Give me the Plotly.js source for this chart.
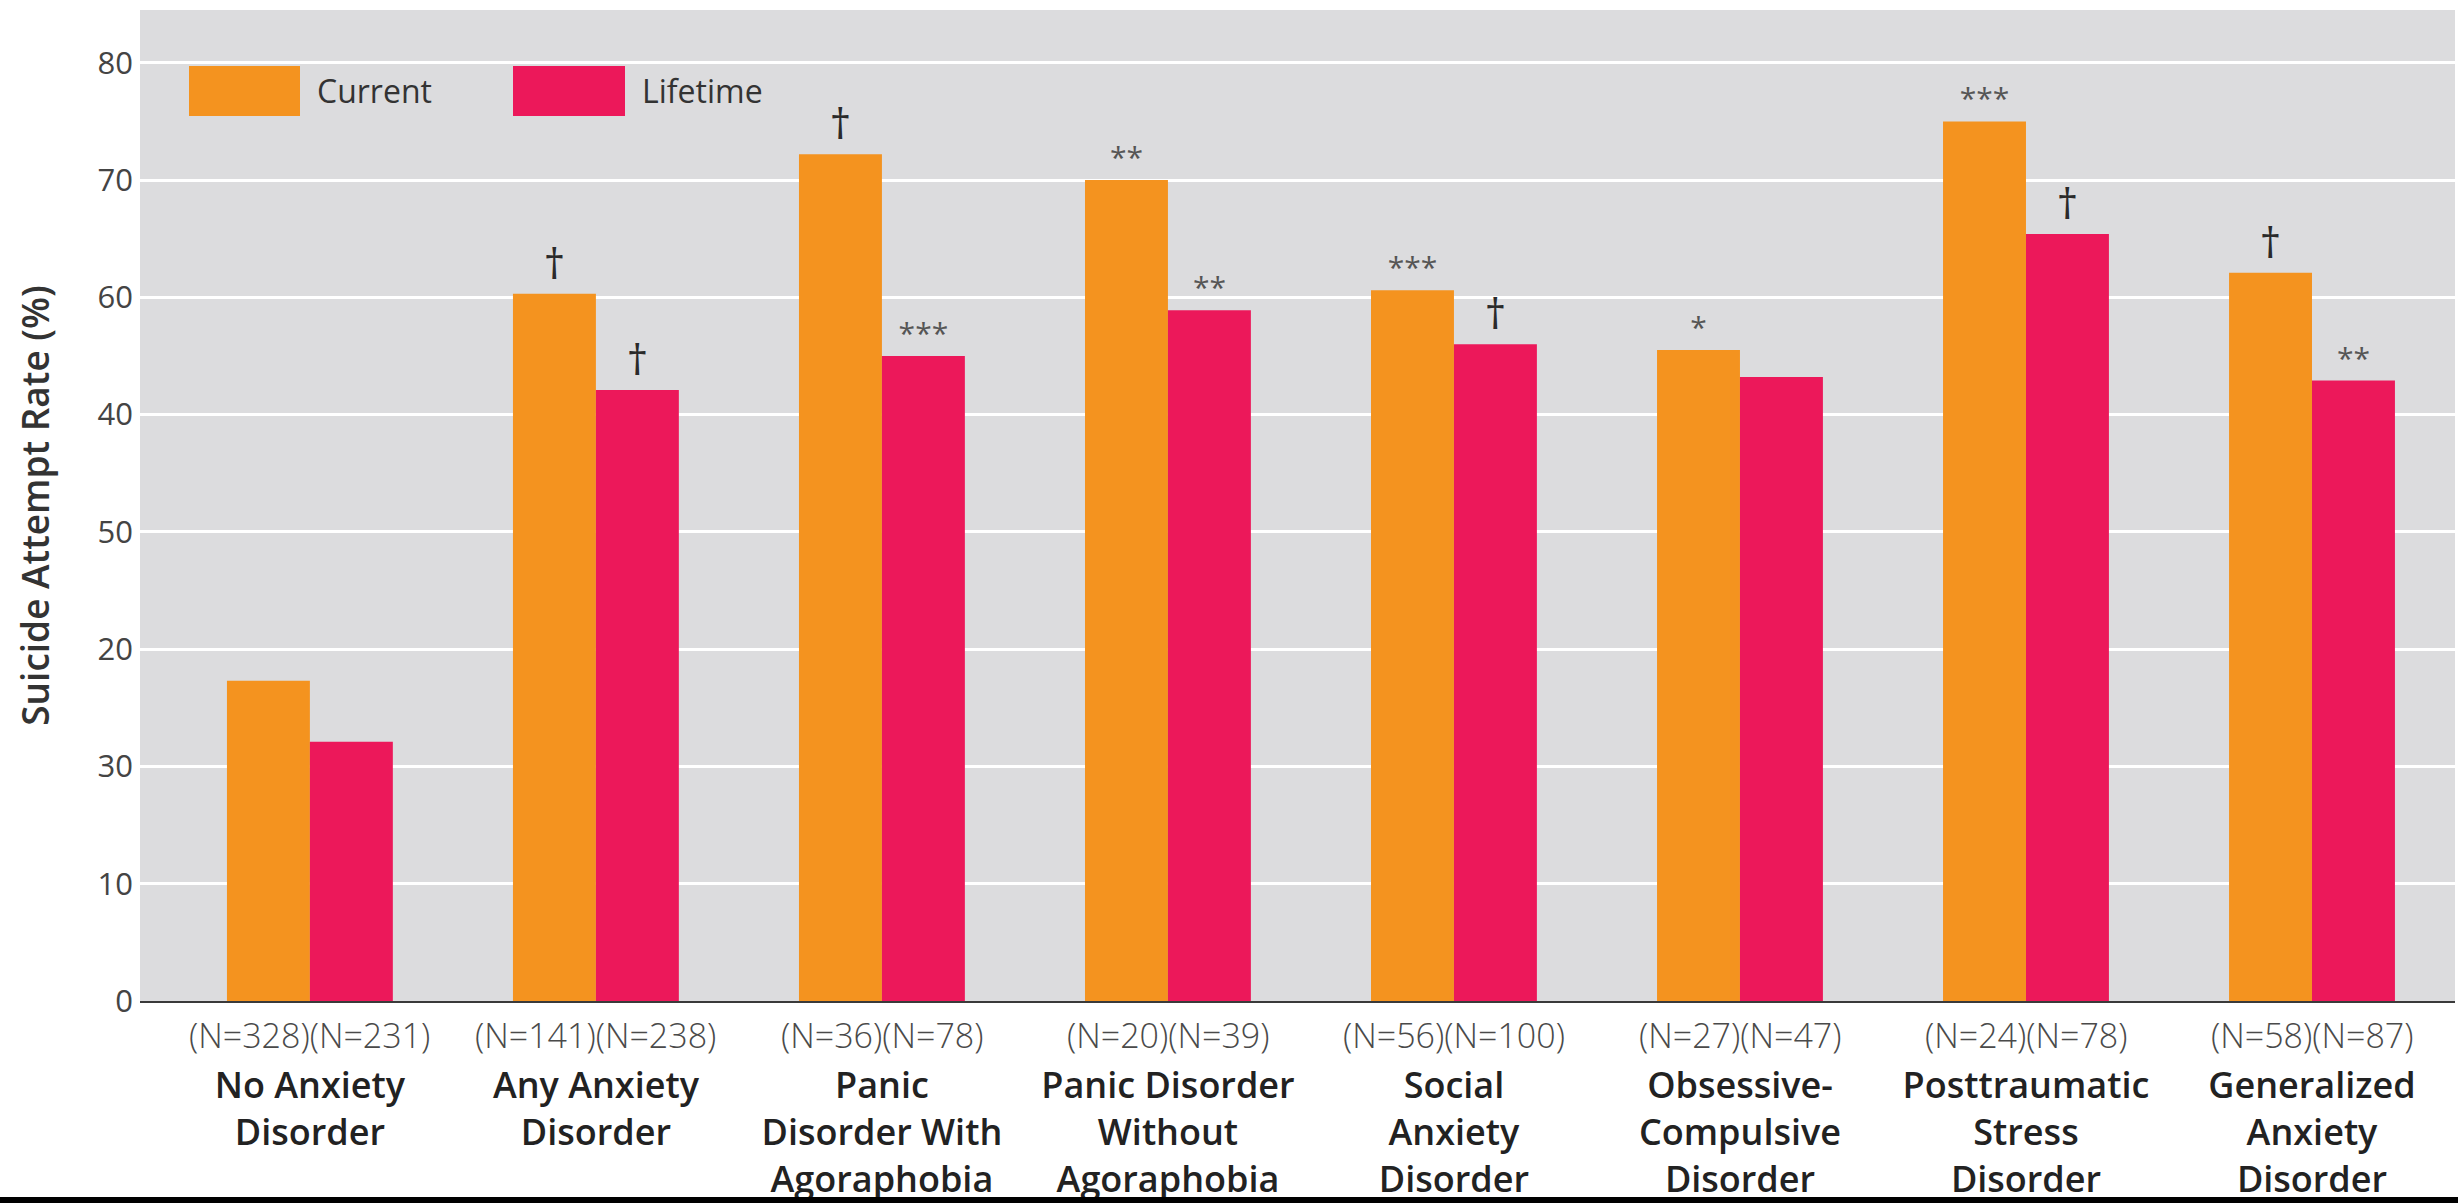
<!DOCTYPE html>
<html>
<head>
<meta charset="utf-8">
<script src="https://cdn.plot.ly/plotly-3.0.1.min.js"></script>
<style>
  html, body { margin: 0; padding: 0; background: #ffffff; }
  #chart { width: 2458px; height: 1203px; }
</style>
</head>
<body>
<div id="chart"></div>
<script>
// ---- Data ----
const categories = [
  "No Anxiety<br>Disorder",
  "Any Anxiety<br>Disorder",
  "Panic<br>Disorder With<br>Agoraphobia",
  "Panic Disorder<br>Without<br>Agoraphobia",
  "Social<br>Anxiety<br>Disorder",
  "Obsessive-<br>Compulsive<br>Disorder",
  "Posttraumatic<br>Stress<br>Disorder",
  "Generalized<br>Anxiety<br>Disorder"
];
const currentRate  = [27.3, 60.3, 72.2, 70.0, 60.6, 55.5, 75.0, 62.1];
const lifetimeRate = [22.1, 52.1, 55.0, 58.9, 56.0, 53.2, 65.4, 52.9];
const nCurrent  = [328, 141, 36, 20, 56, 27, 24, 58];
const nLifetime = [231, 238, 78, 39, 100, 47, 78, 87];
const currentMarks  = ["", "†", "†", "**", "***", "*", "***", "†"];
const lifetimeMarks = ["", "†", "***", "**", "†", "", "†", "**"];
const yTickVals = [0, 10, 20, 30, 40, 50, 60, 70, 80];
const yTickText = ["0", "10", "30", "20", "50", "40", "60", "70", "80"];
const seriesNames = ["Current", "Lifetime"];
const seriesColors = ["#f4931f", "#ec185a"];

// ---- Layout geometry ----
const W = 2458, H = 1203;
const M = { l: 140, r: 3, t: 10, b: 202 };
const plotW = W - M.l - M.r, plotH = H - M.t - M.b;
const px2x = p => (p - M.l) / plotW;
const px2y = p => (H - M.b - p) / plotH;

const FONT = "Open Sans, Noto Sans, sans-serif";
const markSize = m => (m.indexOf("†") >= 0 ? 42 : 30);
const markColor = m => (m.indexOf("†") >= 0 ? "#2a2a2a" : "#555555");

function barTrace(i, values, marks) {
  return {
    type: "bar",
    name: seriesNames[i],
    x: categories,
    y: values,
    marker: { color: seriesColors[i], line: { width: 0 } },
    text: marks,
    textposition: "outside",
    constraintext: "none",
    cliponaxis: false,
    textfont: { family: FONT, size: marks.map(markSize), color: marks.map(markColor) },
    hoverinfo: "x+y+name"
  };
}

const traces = [
  barTrace(0, currentRate, currentMarks),
  barTrace(1, lifetimeRate, lifetimeMarks)
];

const annotations = categories.map((c, i) => ({
  x: c, xref: "x",
  y: px2y(1035), yref: "paper",
  text: "(N=" + nCurrent[i] + ")(N=" + nLifetime[i] + ")",
  showarrow: false,
  xanchor: "center", yanchor: "middle",
  font: { family: FONT, size: 34, color: "#4a4a4a", weight: 300 }
}));

// custom legend (large swatches as in the reference)
const legendBoxes = [[189, 300], [513, 625]];
const legendText = [315, 640];
const shapes = [];
seriesNames.forEach((n, i) => {
  shapes.push({
    type: "rect", xref: "paper", yref: "paper",
    x0: px2x(legendBoxes[i][0]), x1: px2x(legendBoxes[i][1]),
    y0: px2y(116), y1: px2y(66),
    fillcolor: seriesColors[i], line: { width: 0 }
  });
  annotations.push({
    xref: "paper", yref: "paper",
    x: px2x(legendText[i]), y: px2y(91),
    text: n, showarrow: false, xanchor: "left", yanchor: "middle",
    font: { family: FONT, size: 32, color: "#333333" }
  });
});
// black strip along the bottom edge
shapes.push({
  type: "rect", xref: "paper", yref: "paper",
  x0: px2x(0), x1: px2x(W), y0: px2y(H), y1: px2y(1197),
  fillcolor: "#000000", line: { width: 0 }, layer: "above"
});

const layout = {
  width: W, height: H,
  margin: M,
  paper_bgcolor: "#ffffff",
  plot_bgcolor: "#dcdcde",
  showlegend: false,
  barmode: "group",
  bargap: 0.42,
  bargroupgap: 0,
  font: { family: FONT, color: "#333333" },
  xaxis: {
    type: "category",
    range: [-0.594, 7.5],
    showgrid: false,
    zeroline: false,
    showline: true, linecolor: "#3a3a3a", linewidth: 2,
    ticks: "",
    ticklabelstandoff: 52,
    tickfont: { family: FONT, size: 36, color: "#222222", weight: 600 },
    fixedrange: true
  },
  yaxis: {
    range: [0, 84.5],
    tickvals: yTickVals,
    ticktext: yTickText,
    ticks: "",
    ticklabelstandoff: 6,
    tickfont: { family: FONT, size: 31, color: "#444444" },
    showgrid: true, gridcolor: "#ffffff", gridwidth: 3,
    zeroline: false,
    showline: false,
    title: {
      text: "Suicide Attempt Rate (%)",
      standoff: 36,
      font: { family: FONT, size: 37, color: "#333333", weight: 600 }
    },
    fixedrange: true
  },
  annotations: annotations,
  shapes: shapes
};

Plotly.newPlot("chart", traces, layout, { displayModeBar: false, staticPlot: true });
</script>
</body>
</html>
